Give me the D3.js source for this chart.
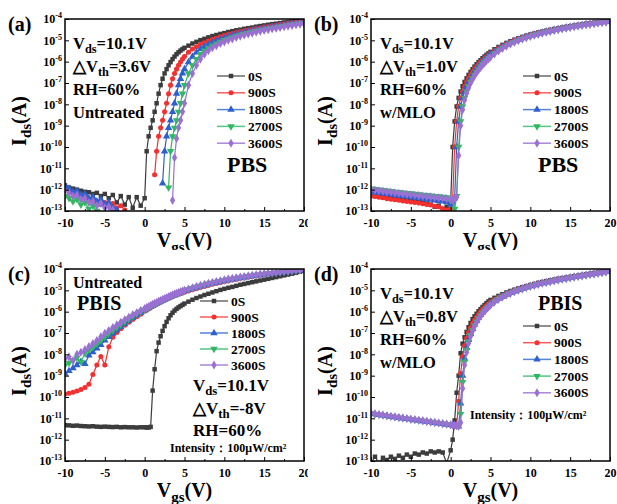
<!DOCTYPE html>
<html>
<head>
<meta charset="utf-8">
<script src="https://cdn.jsdelivr.net/npm/d3@7"></script>
<style>
  body { margin: 0; background: #fff; }
  svg { display: block; }
  text { font-family: "Liberation Serif", "Times New Roman", serif; font-weight: bold; fill: #000; }
</style>
</head>
<body>
<svg id="chart" width="617" height="504"></svg>
<script>
// gate voltage grid (V), shared by every curve
const vgs = [-10,-9.5,-9,-8.5,-8,-7.5,-7,-6.5,-6,-5.5,-5,-4.5,-4,-3.5,-3,-2.5,-2,-1.5,-1,-0.5,
  0,0.25,0.5,0.75,1,1.25,1.5,1.75,2,2.25,2.5,2.75,3,3.25,3.5,3.75,4,4.25,4.5,4.75,5,
  5.5,6,6.5,7,7.5,8,8.5,9,9.5,10,10.5,11,11.5,12,12.5,13,13.5,14,14.5,15,15.5,16,16.5,17,17.5,18,18.5,19,19.5,20];

const seriesNames = ['0S', '900S', '1800S', '2700S', '3600S'];
const xTicks = [-10, -5, 0, 5, 10, 15, 20];
const xMinorTicks = [-7.5, -2.5, 2.5, 7.5, 12.5, 17.5];
const yTickExp = [-13, -12, -11, -10, -9, -8, -7, -6, -5, -4];

// log10(Ids / A); null = below 1e-13, not shown
// (a) PBS, untreated
const a0s = [-11.8,-11.9,-11.95,-12.0,-12.05,-12.1,-12.12,-12.2,-12.15,-12.3,-12.2,-12.4,-12.25,-12.6,-12.3,-12.7,-12.35,-12.85,-12.35,-12.75,
  -12.4,-10.2,-9.5,-9.1,-8.75,-8.35,-7.95,-7.5,-7.1,-6.8,-6.55,-6.35,-6.17,-6.02,-5.88,-5.76,-5.65,-5.56,-5.48,-5.41,-5.35,
  -5.25,-5.15,-5.07,-4.99,-4.93,-4.86,-4.8,-4.75,-4.7,-4.66,-4.61,-4.57,-4.53,-4.5,-4.46,-4.43,-4.4,-4.36,-4.33,-4.3,-4.27,-4.24,-4.22,-4.19,-4.16,-4.14,-4.11,-4.09,-4.07,-4.05];
const a900s = [-11.95,-12.05,-12.2,-12.15,-12.35,-12.3,-12.5,-12.45,-12.55,-12.7,-12.6,-12.75,-12.65,-12.85,-12.75,-12.95,null,null,null,null,
  null,null,null,null,null,-11.3,-10.2,-9.5,-9.1,-8.75,-8.35,-7.95,-7.5,-7.1,-6.8,-6.55,-6.35,-6.17,-6.02,-5.88,-5.76,
  -5.56,-5.41,-5.3,-5.2,-5.11,-5.03,-4.96,-4.9,-4.83,-4.78,-4.72,-4.68,-4.63,-4.59,-4.55,-4.52,-4.48,-4.45,-4.42,-4.38,-4.35,-4.32,-4.29,-4.26,-4.23,-4.2,-4.18,-4.15,-4.13,-4.1];
const a1800s = [-11.85,-11.95,-12.1,-12.05,-12.25,-12.2,-12.4,-12.35,-12.55,-12.45,-12.7,-12.6,-12.85,-12.95,null,null,null,null,null,null,
  null,null,null,null,null,null,null,null,null,-11.7,-10.2,-9.5,-9.1,-8.75,-8.35,-7.95,-7.5,-7.1,-6.8,-6.55,-6.35,
  -6.02,-5.76,-5.56,-5.41,-5.3,-5.2,-5.11,-5.03,-4.96,-4.9,-4.83,-4.78,-4.72,-4.68,-4.63,-4.59,-4.55,-4.52,-4.48,-4.45,-4.42,-4.38,-4.35,-4.32,-4.29,-4.26,-4.23,-4.2,-4.18,-4.15];
const a2700s = [-12.3,-12.4,-12.55,-12.45,-12.7,-12.6,-12.9,-12.75,-13.0,null,null,null,null,null,null,null,null,null,null,null,
  null,null,null,null,null,null,null,null,null,null,null,null,-11.9,-10.2,-9.5,-9.1,-8.75,-8.35,-7.95,-7.5,-7.1,
  -6.55,-6.17,-5.88,-5.65,-5.48,-5.35,-5.25,-5.15,-5.07,-4.99,-4.93,-4.86,-4.8,-4.75,-4.7,-4.66,-4.61,-4.57,-4.53,-4.5,-4.46,-4.43,-4.4,-4.36,-4.33,-4.3,-4.27,-4.24,-4.22,-4.19];
const a3600s = [-12.05,-12.15,-12.3,-12.25,-12.45,-12.4,-12.6,-12.55,-12.75,-12.65,-12.85,-12.8,-12.95,null,null,null,null,null,null,null,
  null,null,null,null,null,null,null,null,null,null,null,null,null,null,-12.5,-10.5,-9.6,-9.1,-8.75,-8.35,-7.95,
  -7.1,-6.55,-6.17,-5.88,-5.65,-5.48,-5.35,-5.25,-5.15,-5.07,-4.99,-4.93,-4.86,-4.8,-4.75,-4.7,-4.66,-4.61,-4.57,-4.53,-4.5,-4.46,-4.43,-4.4,-4.36,-4.33,-4.3,-4.27,-4.24,-4.22];

// (b) PBS, w/MLO
const b0s = [-12.25,-12.3,-12.28,-12.35,-12.33,-12.4,-12.38,-12.45,-12.42,-12.5,-12.48,-12.55,-12.52,-12.6,-12.65,-12.7,-12.8,-12.75,-12.9,-12.8,
  -12.6,-10.0,-8.8,-8.1,-7.7,-7.4,-7.15,-6.95,-6.78,-6.62,-6.48,-6.35,-6.23,-6.12,-6.02,-5.93,-5.84,-5.76,-5.68,-5.61,-5.54,
  -5.42,-5.31,-5.21,-5.12,-5.04,-4.97,-4.9,-4.84,-4.78,-4.73,-4.68,-4.63,-4.59,-4.55,-4.51,-4.47,-4.44,-4.4,-4.37,-4.34,-4.31,-4.28,-4.25,-4.22,-4.2,-4.17,-4.15,-4.13,-4.11,-4.09];
const b900s = [-12.3,-12.32,-12.36,-12.38,-12.42,-12.45,-12.47,-12.5,-12.53,-12.55,-12.58,-12.6,-12.63,-12.66,-12.7,-12.72,-12.78,-12.8,-12.9,-12.95,
  -12.9,-12.5,-10.0,-8.8,-8.1,-7.7,-7.4,-7.15,-6.95,-6.78,-6.62,-6.48,-6.35,-6.23,-6.12,-6.02,-5.93,-5.84,-5.76,-5.68,-5.61,
  -5.48,-5.36,-5.26,-5.16,-5.08,-5.0,-4.93,-4.87,-4.81,-4.75,-4.7,-4.65,-4.61,-4.57,-4.53,-4.49,-4.45,-4.42,-4.39,-4.35,-4.32,-4.29,-4.27,-4.24,-4.21,-4.18,-4.16,-4.14,-4.12,-4.1];
const b1800s = [-12.1,-12.12,-12.15,-12.17,-12.2,-12.22,-12.25,-12.27,-12.3,-12.32,-12.35,-12.37,-12.4,-12.42,-12.45,-12.47,-12.5,-12.52,-12.55,-12.58,
  -12.7,-12.6,-12.4,-10.0,-8.8,-8.1,-7.7,-7.4,-7.15,-6.95,-6.78,-6.62,-6.48,-6.35,-6.23,-6.12,-6.02,-5.93,-5.84,-5.76,-5.68,
  -5.54,-5.42,-5.31,-5.21,-5.12,-5.04,-4.97,-4.9,-4.84,-4.78,-4.73,-4.68,-4.63,-4.59,-4.55,-4.51,-4.47,-4.44,-4.4,-4.37,-4.34,-4.31,-4.28,-4.25,-4.22,-4.2,-4.17,-4.15,-4.13,-4.11];
const b2700s = [-11.95,-11.98,-12.0,-12.02,-12.05,-12.07,-12.1,-12.12,-12.14,-12.16,-12.18,-12.2,-12.22,-12.24,-12.26,-12.28,-12.3,-12.32,-12.34,-12.36,
  -12.5,-12.45,-12.9,-12.3,-10.0,-8.8,-8.1,-7.7,-7.4,-7.15,-6.95,-6.78,-6.62,-6.48,-6.35,-6.23,-6.12,-6.02,-5.93,-5.84,-5.76,
  -5.61,-5.48,-5.36,-5.26,-5.16,-5.08,-5.0,-4.93,-4.87,-4.81,-4.75,-4.7,-4.65,-4.61,-4.57,-4.53,-4.49,-4.45,-4.42,-4.39,-4.35,-4.32,-4.29,-4.27,-4.24,-4.21,-4.18,-4.16,-4.14,-4.12];
const b3600s = [-12.0,-12.02,-12.05,-12.07,-12.1,-12.12,-12.15,-12.17,-12.2,-12.22,-12.24,-12.26,-12.28,-12.3,-12.32,-12.34,-12.36,-12.38,-12.4,-12.42,
  -12.45,-12.5,-12.4,-12.35,-10.4,-9.0,-8.25,-7.8,-7.48,-7.22,-7.0,-6.82,-6.66,-6.52,-6.39,-6.27,-6.16,-6.06,-5.96,-5.87,-5.79,
  -5.64,-5.5,-5.38,-5.27,-5.17,-5.09,-5.01,-4.94,-4.88,-4.82,-4.76,-4.71,-4.66,-4.62,-4.58,-4.54,-4.5,-4.46,-4.43,-4.4,-4.36,-4.33,-4.3,-4.27,-4.25,-4.22,-4.19,-4.17,-4.15,-4.13];

// (c) PBIS, untreated
const c0s = [-11.32,-11.33,-11.35,-11.34,-11.36,-11.37,-11.38,-11.37,-11.39,-11.4,-11.39,-11.4,-11.41,-11.4,-11.42,-11.41,-11.42,-11.42,-11.43,-11.42,
  -11.42,-11.43,-11.43,-11.4,-9.7,-8.7,-7.85,-7.45,-7.15,-6.9,-6.68,-6.48,-6.31,-6.17,-6.05,-5.95,-5.87,-5.8,-5.74,-5.68,-5.62,
  -5.53,-5.44,-5.36,-5.29,-5.22,-5.16,-5.1,-5.04,-4.98,-4.93,-4.88,-4.84,-4.79,-4.74,-4.7,-4.66,-4.62,-4.58,-4.54,-4.5,-4.46,-4.42,-4.38,-4.34,-4.3,-4.26,-4.22,-4.18,-4.13,-4.08];
const c900s = [-9.86,-9.82,-9.78,-9.72,-9.65,-9.55,-9.4,-8.95,-8.5,-8.1,-8.5,-7.65,-7.2,-6.98,-6.8,-6.64,-6.5,-6.37,-6.24,-6.12,
  -5.98,-5.92,-5.86,-5.8,-5.75,-5.7,-5.64,-5.59,-5.54,-5.5,-5.45,-5.41,-5.37,-5.33,-5.29,-5.25,-5.22,-5.18,-5.15,-5.12,-5.09,
  -5.03,-4.97,-4.92,-4.87,-4.82,-4.77,-4.72,-4.68,-4.64,-4.6,-4.56,-4.52,-4.49,-4.45,-4.42,-4.39,-4.36,-4.33,-4.3,-4.27,-4.24,-4.21,-4.19,-4.16,-4.14,-4.11,-4.09,-4.07,-4.05,-4.03];
const c1800s = [-8.9,-8.78,-8.65,-8.5,-8.35,-8.45,-8.05,-7.9,-7.72,-7.55,-7.35,-7.18,-7.03,-6.88,-6.72,-6.58,-6.44,-6.3,-6.17,-6.05,
  -5.94,-5.88,-5.83,-5.77,-5.72,-5.67,-5.62,-5.57,-5.52,-5.48,-5.43,-5.39,-5.34,-5.3,-5.26,-5.22,-5.18,-5.14,-5.1,-5.07,-5.03,
  -4.97,-4.91,-4.85,-4.8,-4.75,-4.7,-4.66,-4.62,-4.58,-4.54,-4.5,-4.47,-4.44,-4.41,-4.38,-4.35,-4.32,-4.29,-4.27,-4.24,-4.22,-4.2,-4.18,-4.16,-4.14,-4.12,-4.1,-4.08,-4.06,-4.04];
const c2700s = [-8.5,-8.4,-8.3,-8.15,-8.35,-7.95,-7.8,-7.65,-7.5,-7.35,-7.18,-7.02,-6.88,-6.74,-6.6,-6.47,-6.34,-6.22,-6.1,-6.0,
  -5.9,-5.85,-5.8,-5.74,-5.69,-5.64,-5.6,-5.55,-5.5,-5.46,-5.41,-5.37,-5.32,-5.28,-5.24,-5.2,-5.16,-5.12,-5.09,-5.05,-5.02,
  -4.96,-4.9,-4.84,-4.79,-4.74,-4.69,-4.65,-4.61,-4.57,-4.53,-4.49,-4.46,-4.43,-4.4,-4.37,-4.34,-4.31,-4.28,-4.26,-4.23,-4.21,-4.19,-4.17,-4.15,-4.13,-4.11,-4.09,-4.07,-4.05,-4.04];
const c3600s = [-8.2,-8.12,-8.3,-8.0,-7.9,-7.78,-7.64,-7.5,-7.35,-7.18,-7.02,-6.88,-6.75,-6.62,-6.5,-6.38,-6.26,-6.15,-6.05,-5.95,
  -5.86,-5.81,-5.76,-5.71,-5.66,-5.61,-5.57,-5.52,-5.48,-5.43,-5.39,-5.35,-5.3,-5.26,-5.22,-5.18,-5.14,-5.11,-5.07,-5.03,-5.0,
  -4.94,-4.88,-4.82,-4.77,-4.72,-4.67,-4.63,-4.59,-4.55,-4.51,-4.47,-4.44,-4.41,-4.38,-4.35,-4.32,-4.29,-4.27,-4.24,-4.22,-4.2,-4.18,-4.16,-4.14,-4.12,-4.1,-4.08,-4.06,-4.05,-4.03];

// (d) PBIS, w/MLO
const d0s = [-13.1,-12.8,-13.1,-12.85,-12.95,-12.8,-12.9,-12.75,-12.85,-12.7,-12.8,-12.65,-12.7,-12.6,-12.65,-12.55,-12.6,-12.55,-12.6,-13.1,
  -12.5,-12.0,-11.1,-9.8,-9.0,-7.95,-7.5,-7.2,-6.95,-6.73,-6.53,-6.35,-6.22,-6.1,-5.98,-5.88,-5.78,-5.69,-5.6,-5.52,-5.45,
  -5.35,-5.26,-5.18,-5.1,-5.03,-4.97,-4.91,-4.85,-4.8,-4.75,-4.7,-4.65,-4.61,-4.57,-4.53,-4.5,-4.46,-4.43,-4.4,-4.37,-4.34,-4.31,-4.28,-4.25,-4.22,-4.19,-4.16,-4.13,-4.1,-4.08];
const d900s = [-10.78,-10.81,-10.83,-10.86,-10.89,-10.91,-10.94,-10.97,-10.99,-11.02,-11.05,-11.07,-11.1,-11.12,-11.15,-11.18,-11.2,-11.23,-11.26,-11.28,
  -11.31,-11.32,-11.34,-11.36,-10.2,-8.9,-8.1,-7.6,-7.25,-6.98,-6.75,-6.56,-6.4,-6.26,-6.13,-6.01,-5.9,-5.8,-5.71,-5.63,-5.55,
  -5.43,-5.33,-5.24,-5.15,-5.08,-5.01,-4.95,-4.89,-4.83,-4.78,-4.73,-4.68,-4.64,-4.6,-4.56,-4.52,-4.48,-4.45,-4.42,-4.39,-4.36,-4.33,-4.3,-4.27,-4.24,-4.21,-4.18,-4.15,-4.12,-4.1];
const d1800s = [-10.79,-10.8,-10.84,-10.86,-10.88,-10.92,-10.94,-10.96,-11.0,-11.02,-11.04,-11.08,-11.1,-11.13,-11.15,-11.17,-11.21,-11.23,-11.25,-11.29,
  -11.31,-11.32,-11.34,-11.36,-11.38,-10.3,-9.0,-8.2,-7.7,-7.32,-7.04,-6.8,-6.6,-6.43,-6.28,-6.15,-6.03,-5.92,-5.82,-5.73,-5.65,
  -5.51,-5.39,-5.29,-5.2,-5.12,-5.05,-4.98,-4.92,-4.86,-4.8,-4.75,-4.7,-4.66,-4.62,-4.58,-4.54,-4.5,-4.47,-4.44,-4.4,-4.37,-4.34,-4.31,-4.28,-4.25,-4.22,-4.19,-4.16,-4.13,-4.11];
const d2700s = [-10.77,-10.8,-10.83,-10.85,-10.89,-10.91,-10.93,-10.97,-10.99,-11.01,-11.05,-11.07,-11.09,-11.12,-11.15,-11.17,-11.2,-11.22,-11.25,-11.28,
  -11.3,-11.32,-11.33,-11.35,-11.37,-10.8,-9.3,-8.35,-7.8,-7.4,-7.1,-6.85,-6.64,-6.47,-6.31,-6.18,-6.06,-5.95,-5.85,-5.76,-5.67,
  -5.52,-5.4,-5.3,-5.21,-5.13,-5.06,-4.99,-4.93,-4.87,-4.81,-4.76,-4.71,-4.67,-4.63,-4.59,-4.55,-4.51,-4.48,-4.45,-4.41,-4.38,-4.35,-4.32,-4.29,-4.26,-4.23,-4.2,-4.17,-4.14,-4.12];
const d3600s = [-10.76,-10.79,-10.82,-10.85,-10.88,-10.9,-10.93,-10.96,-10.98,-11.01,-11.04,-11.06,-11.09,-11.11,-11.14,-11.17,-11.19,-11.22,-11.25,-11.27,
  -11.3,-11.31,-11.33,-11.35,-11.37,-11.2,-9.6,-8.5,-7.9,-7.48,-7.15,-6.9,-6.68,-6.5,-6.34,-6.2,-6.08,-5.97,-5.87,-5.78,-5.69,
  -5.54,-5.42,-5.31,-5.22,-5.14,-5.06,-4.99,-4.93,-4.87,-4.82,-4.77,-4.72,-4.67,-4.63,-4.59,-4.55,-4.51,-4.48,-4.45,-4.41,-4.38,-4.35,-4.32,-4.29,-4.26,-4.23,-4.2,-4.17,-4.14,-4.12];

const colors = ['#3c3c3c', '#f23030', '#2f5fcf', '#2fb860', '#9a70d2'];
const legendColors = ['#6a6a6a', '#ff5a5a', '#5585d8', '#55c585', '#a887da'];
const symbols = [d3.symbolSquare, d3.symbolCircle, d3.symbolTriangle, d3.symbolTriangle, d3.symbolDiamond];
const symbolRotate = [0, 0, 0, 180, 0];
const symbolSize = [20, 20, 24, 24, 24];

const W = 239, H = 192;

const panels = [
  { tag: '(a)', clip: [0, 0, 308, 250], left: 65, top: 19,
    series: [a0s, a900s, a1800s, a2700s, a3600s],
    notes: { x: 73, ys: [49, 72, 95, 118], size: 16.5,
      lines: [['V', ['ds'], '=10.1V'], ['\u25B3V', ['th'], '=3.6V'], ['RH=60%'], ['Untreated']] },
    legend: { x: 217, y: 76, dy: 16.8 },
    extras: [{ t: 'PBS', x: 227, y: 172, size: 22 }] },
  { tag: '(b)', clip: [308, 0, 309, 250], left: 371, top: 19,
    series: [b0s, b900s, b1800s, b2700s, b3600s],
    notes: { x: 380, ys: [49, 72, 95, 118], size: 16.5,
      lines: [['V', ['ds'], '=10.1V'], ['\u25B3V', ['th'], '=1.0V'], ['RH=60%'], ['w/MLO']] },
    legend: { x: 523, y: 76, dy: 16.8 },
    extras: [{ t: 'PBS', x: 538, y: 172, size: 22 }] },
  { tag: '(c)', clip: [0, 250, 308, 254], left: 65, top: 269,
    series: [c0s, c900s, c1800s, c2700s, c3600s],
    notes: { x: 193, ys: [391, 414, 436], size: 17,
      lines: [['V', ['ds'], '=10.1V'], ['\u25B3V', ['th'], '=-8V'], ['RH=60%']] },
    legend: { x: 200, y: 301, dy: 16 },
    extras: [{ t: 'Untreated', x: 73, y: 288, size: 16 }, { t: 'PBIS', x: 77, y: 310, size: 20 },
             { t: 'Intensity\uFF1A100\u03BCW/cm\u00B2', x: 170, y: 452, size: 12 }] },
  { tag: '(d)', clip: [308, 250, 309, 254], left: 371, top: 269,
    series: [d0s, d900s, d1800s, d2700s, d3600s],
    notes: { x: 380, ys: [299, 322, 345, 368], size: 16.5,
      lines: [['V', ['ds'], '=10.1V'], ['\u25B3V', ['th'], '=0.8V'], ['RH=60%'], ['w/MLO']] },
    legend: { x: 523, y: 326, dy: 16.7 },
    extras: [{ t: 'PBIS', x: 538, y: 310, size: 20 },
             { t: 'Intensity\uFF1A100\u03BCW/cm\u00B2', x: 470, y: 419, size: 12 }] }
];

panels.forEach(p => p.series.forEach((s, i) => {
  if (s.length !== vgs.length) throw new Error(p.tag + ' ' + seriesNames[i] + ' has ' + s.length + ' points');
}));

const svg = d3.select('#chart');
const defs = svg.append('defs');

// text with subscripts: plain strings stay on the baseline, [str] is lowered and smaller
function richText(g, parts, size, attrs) {
  const t = g.append('text').style('font-size', size + 'px');
  Object.entries(attrs).forEach(([k, v]) => t.attr(k, v));
  let low = false;
  parts.forEach(part => {
    const isSub = Array.isArray(part);
    const span = t.append('tspan').text(isSub ? part[0] : part);
    if (isSub) {
      span.style('font-size', (size * 0.75) + 'px');
      if (!low) span.attr('dy', size * 0.25);
      low = true;
    } else if (low) {
      span.attr('dy', -size * 0.25);
      low = false;
    }
  });
  return t;
}

panels.forEach((p, pi) => {
  defs.append('clipPath').attr('id', 'quad' + pi).append('rect')
    .attr('x', p.clip[0]).attr('y', p.clip[1]).attr('width', p.clip[2]).attr('height', p.clip[3]);
  defs.append('clipPath').attr('id', 'plot' + pi).append('rect')
    .attr('x', p.left).attr('y', p.top).attr('width', W).attr('height', H);

  const g = svg.append('g').attr('clip-path', `url(#quad${pi})`);

  const x = d3.scaleLinear().domain([-10, 20]).range([p.left, p.left + W]);
  const y = d3.scaleLog().domain([1e-13, 1e-4]).range([p.top + H, p.top]);

  // curves
  const plot = g.append('g').attr('clip-path', `url(#plot${pi})`);
  const line = d3.line()
    .defined(d => d.v !== null)
    .x(d => x(d.x))
    .y(d => y(Math.pow(10, d.v)));

  p.series.forEach((s, si) => {
    const pts = vgs.map((v, k) => ({ x: v, v: s[k] }));
    plot.append('path').datum(pts)
      .attr('d', line)
      .attr('fill', 'none')
      .attr('stroke', colors[si])
      .attr('stroke-width', 1.2);
    plot.selectAll(null)
      .data(pts.filter(d => d.v !== null))
      .enter().append('path')
      .attr('d', d3.symbol().type(symbols[si]).size(symbolSize[si]))
      .attr('transform', d => `translate(${x(d.x)},${y(Math.pow(10, d.v))}) rotate(${symbolRotate[si]})`)
      .attr('fill', colors[si]);
  });

  // axes
  const xAxis = g.append('g').attr('transform', `translate(0,${p.top + H})`)
    .call(d3.axisBottom(x).tickValues(xTicks).tickSize(-4).tickPadding(7).tickFormat(d => String(d)));
  xAxis.attr('font-family', null).attr('font-size', 12);
  xAxis.select('.domain').remove();

  const xMinor = g.append('g').attr('transform', `translate(0,${p.top + H})`)
    .call(d3.axisBottom(x).tickValues(xMinorTicks).tickSize(-2).tickFormat(''));
  xMinor.select('.domain').remove();

  const yAxis = g.append('g').attr('transform', `translate(${p.left},0)`)
    .call(d3.axisLeft(y).tickValues(yTickExp.map(e => Math.pow(10, e))).tickSize(-4).tickPadding(3).tickFormat(() => '10'));
  yAxis.attr('font-family', null).attr('font-size', 12);
  yAxis.select('.domain').remove();
  yAxis.selectAll('.tick text').append('tspan')
    .attr('dy', -5).style('font-size', '8px')
    .text(d => String(Math.round(Math.log10(d))));

  g.selectAll('.tick line').attr('stroke', '#000').attr('stroke-width', 1);
  g.selectAll('.tick text').attr('fill', '#000');

  g.append('rect')
    .attr('x', p.left).attr('y', p.top).attr('width', W).attr('height', H)
    .attr('fill', 'none').attr('stroke', '#000').attr('stroke-width', 1.5);

  // axis titles
  richText(g, ['I', ['ds'], '(A)'], 20, {
    'text-anchor': 'middle',
    transform: `translate(${p.left - 39},${p.top + H / 2 + 6}) rotate(-90)`
  });
  richText(g, ['V', ['gs'], '(V)'], 20, {
    'text-anchor': 'middle', x: p.left + W / 2, y: p.top + H + 36
  });

  // panel tag
  g.append('text').attr('x', p.left - 57).attr('y', p.top + 12)
    .style('font-size', '20px').text(p.tag);

  // notes
  p.notes.lines.forEach((ln, k) => {
    richText(g, ln, p.notes.size, { x: p.notes.x, y: p.notes.ys[k] });
  });
  p.extras.forEach(e => {
    g.append('text').attr('x', e.x).attr('y', e.y).style('font-size', e.size + 'px').text(e.t);
  });

  // legend
  const lg = g.append('g');
  seriesNames.forEach((name, si) => {
    const ly = p.legend.y + si * p.legend.dy;
    lg.append('line')
      .attr('x1', p.legend.x).attr('x2', p.legend.x + 28)
      .attr('y1', ly).attr('y2', ly)
      .attr('stroke', legendColors[si]).attr('stroke-width', 1.5);
    lg.append('path')
      .attr('d', d3.symbol().type(symbols[si]).size(symbolSize[si]))
      .attr('transform', `translate(${p.legend.x + 14},${ly}) rotate(${symbolRotate[si]})`)
      .attr('fill', colors[si]);
    lg.append('text')
      .attr('x', p.legend.x + 31).attr('y', ly + 4.5)
      .style('font-size', '13.5px').text(name);
  });
});
</script>
</body>
</html>
